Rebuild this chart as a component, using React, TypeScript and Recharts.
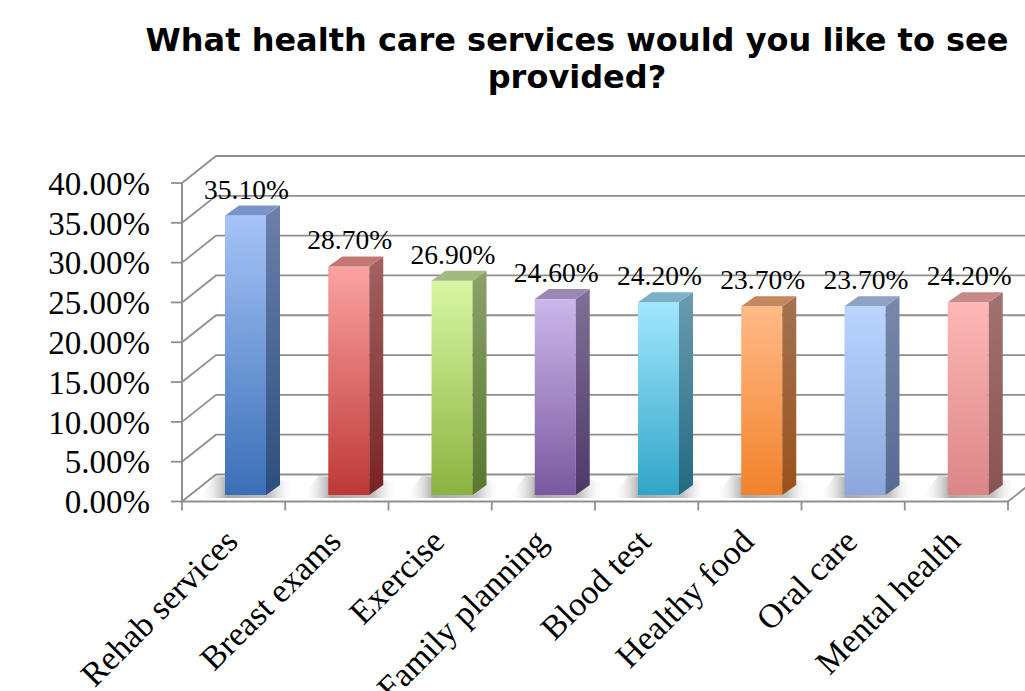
import React from 'react';
import { BarChart, Bar, XAxis, YAxis, CartesianGrid, LabelList } from 'recharts';

const categories = ['Rehab services', 'Breast exams', 'Exercise', 'Family planning', 'Blood test', 'Healthy food', 'Oral care', 'Mental health'];
const values = [0.351, 0.287, 0.269, 0.246, 0.242, 0.237, 0.237, 0.242];
const yTicks = [0, 0.05, 0.1, 0.15, 0.2, 0.25, 0.3, 0.35, 0.4];
const titleLines = ['What health care services would you like to see', 'provided?'];

const frontTop = ['#a6c4f7', '#fba3a3', '#d8f6a4', '#cbb7e9', '#a1e7fd', '#ffba87', '#b9d5ff', '#ffb7b7'];
const frontBottom = ['#3a6fb7', '#bd3835', '#8bb23f', '#7a599f', '#31a5c7', '#f1822a', '#8ba7dc', '#da8686'];
const sideTop = ['#6c80aa', '#a36262', '#8ba26a', '#807096', '#6b9bb1', '#a37352', '#7888aa', '#a27272'];
const sideBottom = ['#2b4e7f', '#792222', '#5a782c', '#4d3969', '#226a80', '#9a511b', '#576a91', '#885353'];
const topFace = ['#7a94c9', '#c17872', '#a2b97f', '#9a88b2', '#7bb1c8', '#c4885f', '#8ea2c4', '#c58a88'];

const data = categories.map((c, i) => ({ name: c, value: values[i] }));

const DX = 34; // wall depth offset
const DY = -27;
const BDX = 12; // bar plane offset
const BDY = -6.5;
const SD = 14; // bar depth x
const SDY = -10; // bar depth y

const GRID = '#8f8f8f';
const SERIF = '"Liberation Serif", "DejaVu Serif", serif';

const BarShape = (props: any) => {
  const { x, y, width, height, index } = props;
  const x0 = x + BDX;
  const y0 = y + BDY;
  const w = width;
  const h = height;
  const x1 = x0 + w;
  const yb = y0 + h;
  const id = `b${index}`;
  return (
    <g>
      <defs>
        <linearGradient id={`${id}f`} x1="0" y1="0" x2="0" y2="1">
          <stop offset="0" stopColor={frontTop[index]} />
          <stop offset="1" stopColor={frontBottom[index]} />
        </linearGradient>
        <linearGradient id={`${id}s`} x1="0" y1="0" x2="0" y2="1">
          <stop offset="0" stopColor={sideTop[index]} />
          <stop offset="1" stopColor={sideBottom[index]} />
        </linearGradient>
        <linearGradient id={`${id}sh`} x1="0" y1="0" x2="1" y2="0">
          <stop offset="0" stopColor="#ffffff" stopOpacity="0" />
          <stop offset="0.3" stopColor="#8a8a8a" stopOpacity="0.75" />
          <stop offset="0.75" stopColor="#9a9a9a" stopOpacity="0.6" />
          <stop offset="1" stopColor="#ffffff" stopOpacity="0" />
        </linearGradient>
      </defs>
      <polygon
        points={`${x0 - 26},${yb + 3} ${x1 + SD + 14},${yb + 3} ${x1 + SD + 14},${yb - 14} ${x0 - 10},${yb - 19}`}
        fill={`url(#${id}sh)`}
      />
      <rect x={x0} y={y0} width={w} height={h} fill={`url(#${id}f)`} />
      <polygon
        points={`${x1},${y0} ${x1 + SD},${y0 + SDY} ${x1 + SD},${yb + SDY} ${x1},${yb}`}
        fill={`url(#${id}s)`}
      />
      <polygon
        points={`${x0},${y0} ${x0 + SD},${y0 + SDY} ${x1 + SD},${y0 + SDY} ${x1},${y0}`}
        fill={topFace[index]}
      />
    </g>
  );
};

const ValueLabel = (props: any) => {
  const { x, y, width, value } = props;
  return (
    <text
      x={x + BDX + width / 2 + 1}
      y={y + BDY - 17}
      textAnchor="middle"
      fontFamily={SERIF}
      fontSize={27.5}
      fill="#000"
    >
      {`${(value * 100).toFixed(2)}%`}
    </text>
  );
};

const CategoryTick = (props: any) => {
  const { x, y, payload, index, visibleTicksCount } = props;
  const half = payload && typeof payload.offset === 'number' && payload.offset > 0 ? payload.offset : 826 / categories.length / 2;
  const ax = x + 6;
  const ay = y + 33;
  const axisY = y - 9;
  const last = index === (visibleTicksCount ?? categories.length) - 1;
  return (
    <g>
      <line x1={x - half} y1={axisY} x2={x - half} y2={axisY + 9} stroke={GRID} strokeWidth={1.8} />
      {last && <line x1={x + half} y1={axisY} x2={x + half} y2={axisY + 9} stroke={GRID} strokeWidth={1.8} />}
      <text
        x={ax}
        y={ay}
        textAnchor="end"
        transform={`rotate(-45, ${ax}, ${ay})`}
        fontFamily={SERIF}
        fontSize={34}
        fill="#000"
      >
        {payload.value}
      </text>
    </g>
  );
};

const gridLine = (p: any) => {
  const { x1, y1, x2, index } = p;
  let d = `M${x1},${y1} L${x1 + DX},${y1 + DY} L${x2 + DX + 40},${y1 + DY}`;
  if (index === 0 || Math.abs(y1 - 501.5) < 1) {
    d += ` M${x2},${y1} L${x2 + DX},${y1 + DY}`;
  }
  return <path key={`g${index}`} d={d} stroke={GRID} strokeWidth={1.8} fill="none" />;
};

export default function App() {
  return (
    <div style={{ position: 'absolute', left: 0, top: 0, width: 1025, height: 691, background: '#fff', overflow: 'hidden' }}>
      <div
        style={{
          position: 'absolute',
          left: 77,
          top: 22,
          width: 1000,
          textAlign: 'center',
          fontFamily: '"DejaVu Sans", Verdana, sans-serif',
          fontWeight: 'bold',
          fontSize: 32,
          lineHeight: '37px',
          color: '#000',
          whiteSpace: 'nowrap',
        }}
      >
        {titleLines[0]}
        <br />
        {titleLines[1]}
      </div>
      <BarChart
        width={1025}
        height={691}
        data={data}
        margin={{ top: 183, right: 17, bottom: 129.5, left: 0 }}
        barSize={41}
      >
        <CartesianGrid vertical={false} horizontal={gridLine} />
        <XAxis
          dataKey="name"
          height={60}
          interval={0}
          tickLine={false}
          axisLine={{ stroke: GRID, strokeWidth: 2 }}
          tickSize={9}
          tickMargin={0}
          tick={<CategoryTick />}
        />
        <YAxis
          width={182}
          domain={[0, 0.4]}
          ticks={yTicks}
          interval={0}
          tickFormatter={(v: number) => `${(v * 100).toFixed(2)}%`}
          tickSize={11}
          tickMargin={21}
          tickLine={{ stroke: GRID, strokeWidth: 1.8 }}
          axisLine={{ stroke: GRID, strokeWidth: 2 }}
          tick={{ fontFamily: SERIF, fontSize: 33, fill: '#000' }}
        />
        <Bar dataKey="value" isAnimationActive={false} shape={<BarShape />}>
          <LabelList dataKey="value" content={<ValueLabel />} />
        </Bar>
      </BarChart>
    </div>
  );
}
